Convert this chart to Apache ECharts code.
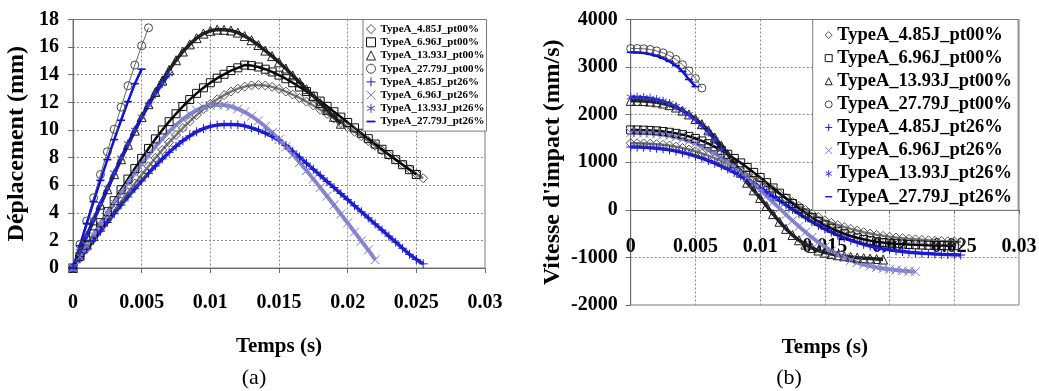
<!DOCTYPE html>
<html>
<head>
<meta charset="utf-8">
<script src="https://cdn.jsdelivr.net/npm/echarts@6/dist/echarts.min.js"></script>
<style>html,body{margin:0;padding:0;background:#fff;}#c{width:1039px;height:391px;}</style>
</head>
<body>
<div id="c"></div>
<script>
// ---- DATA ----
const seriesNames = ["TypeA_4.85J_pt00%","TypeA_6.96J_pt00%","TypeA_13.93J_pt00%","TypeA_27.79J_pt00%",
                     "TypeA_4.85J_pt26%","TypeA_6.96J_pt26%","TypeA_13.93J_pt26%","TypeA_27.79J_pt26%"];
const time = [0,0.0005,0.001,0.0015,0.002,0.0025,0.003,0.0035,0.004,0.0045,0.005,0.0055,0.006,0.0065,0.007,0.0075,
  0.008,0.0085,0.009,0.0095,0.010,0.0105,0.011,0.0115,0.012,0.0125,0.013,0.0135,0.014,0.0145,0.015,0.0155,
  0.016,0.0165,0.017,0.0175,0.018,0.0185,0.019,0.0195,0.020,0.0205,0.021,0.0215,0.022,0.0225,0.023,0.0235,
  0.024,0.0245,0.025,0.0255];
const timeTicks = [0,0.005,0.01,0.015,0.02,0.025,0.03];
const depTicks = [0,2,4,6,8,10,12,14,16,18];
const vitTicks = [-2000,-1000,0,1000,2000,3000,4000];

// (a) Déplacement (mm)
const dep_4_85_pt00 = [0,0.7,1.4,2.1,2.8,3.48,4.15,4.82,5.48,6.12,6.75,7.37,7.97,8.55,9.1,9.63,10.14,10.62,11.07,11.5,11.88,
  12.22,12.52,12.78,12.99,13.14,13.23,13.26,13.22,13.12,12.97,12.78,12.56,12.32,12.05,11.77,11.47,11.16,10.84,10.52,10.2,
  9.87,9.54,9.2,8.86,8.52,8.18,7.84,7.5,7.16,6.82,6.5];
const dep_6_96_pt00 = [0,0.83,1.65,2.47,3.28,4.08,4.88,5.67,6.44,7.2,7.94,8.66,9.35,10.0,10.6,11.17,11.7,12.2,12.65,13.05,13.42,
  13.75,14.03,14.3,14.5,14.7,14.66,14.56,14.4,14.2,13.97,13.71,13.42,13.11,12.78,12.44,12.09,11.71,11.32,10.93,10.54,
  10.15,9.76,9.37,8.98,8.6,8.22,7.85,7.48,7.12,6.77];
const dep_13_93_pt00 = [0,1.15,2.3,3.45,4.58,5.7,6.8,7.88,8.93,9.95,10.93,11.87,12.75,13.58,14.35,15.05,15.68,16.2,16.65,16.98,17.18,
  17.27,17.25,17.2,17.05,16.8,16.5,16.15,15.75,15.35,14.9,14.45,13.95,13.45,12.95,12.45,11.95,11.45,10.95,10.45];
const dep_27_79_pt00 = [0,1.7,3.4,5.09,6.77,8.42,10.05,11.65,13.2,14.7,16.1,17.4];
const dep_4_85_pt26 = [0,0.67,1.34,2.0,2.66,3.3,3.93,4.55,5.15,5.74,6.31,6.86,7.39,7.9,8.38,8.82,9.22,9.57,9.87,10.1,10.26,
  10.35,10.39,10.4,10.37,10.3,10.15,9.98,9.77,9.53,9.27,8.88,8.46,8.03,7.59,7.15,6.71,6.27,5.83,5.39,4.95,
  4.51,4.07,3.63,3.19,2.75,2.31,1.87,1.43,0.99,0.62,0.3];
const dep_6_96_pt26 = [0,0.8,1.6,2.39,3.17,3.94,4.7,5.44,6.16,6.86,7.53,8.17,8.78,9.35,9.88,10.36,10.78,11.14,11.43,11.64,11.77,
  11.82,11.8,11.7,11.53,11.3,11.0,10.65,10.25,9.8,9.3,8.77,8.22,7.65,7.06,6.45,5.83,5.2,4.56,3.91,3.26,
  2.61,1.96,1.31,0.6];
const dep_13_93_pt26 = [0,1.17,2.34,3.5,4.65,5.78,6.88,7.97,9.0,9.98,10.92,11.8,12.6,13.35,14.05];
const dep_27_79_pt26 = [0,1.62,3.22,4.8,6.35,7.85,9.3,10.7,12.05,13.35,14.4];

// (b) Vitesse d'impact (mm/s)
const vit_4_85_pt00 = [1400,1399,1395,1389,1380,1367,1350,1327,1300,1267,1230,1187,1140,1087,1030,967,900,827,750,671,590,
  506,420,335,250,165,80,0,-80,-152,-220,-272,-320,-362,-400,-436,-470,-499,-525,-546,-565,
  -581,-595,-608,-620,-631,-640,-648,-655,-661,-665,-670];
const vit_6_96_pt00 = [1680,1679,1675,1669,1660,1647,1630,1607,1580,1543,1500,1448,1390,1324,1250,1168,1080,987,890,787,680,
  571,460,350,240,134,30,-67,-160,-243,-320,-388,-450,-503,-550,-588,-620,-647,-670,-687,-700,
  -711,-720,-728,-735,-740,-745,-748,-750,-753,-755];
const vit_13_93_pt00 = [2290,2290,2285,2275,2260,2235,2200,2150,2085,2005,1910,1800,1670,1520,1350,1170,980,780,570,410,250,
  80,-90,-250,-400,-530,-640,-730,-800,-855,-900,-930,-955,-975,-990,-1005,-1015,-1025,-1035,-1045];
const vit_27_79_pt00 = [3390,3390,3385,3370,3340,3300,3240,3160,3050,2920,2760,2560];
const vit_4_85_pt26 = [1320,1319,1315,1307,1295,1280,1260,1235,1205,1170,1130,1085,1035,980,920,855,785,710,630,547,460,
  371,280,190,100,10,-80,-166,-250,-327,-400,-467,-530,-587,-640,-685,-725,-760,-790,-817,-840,
  -859,-875,-889,-900,-911,-920,-928,-935,-941,-945,-950];
const vit_6_96_pt26 = [1620,1619,1615,1607,1595,1577,1555,1525,1490,1446,1395,1334,1265,1186,1100,1004,900,788,670,547,420,
  291,160,30,-100,-227,-350,-468,-580,-684,-780,-864,-940,-1004,-1060,-1108,-1150,-1183,-1210,-1232,-1250,
  -1266,-1280,-1291,-1300];
const vit_13_93_pt26 = [2370,2368,2360,2345,2320,2285,2235,2170,2090,2000,1890,1770,1630,1470,1260];
const vit_27_79_pt26 = [3310,3305,3295,3270,3235,3185,3120,3030,2910,2740,2590];

// ---- STYLES ----
const FONT = "'Liberation Serif', 'Times New Roman', serif";
const P_PLUS = 'path://M5,0L5,10M0,5L10,5';
const P_CROSS = 'path://M0,0L10,10M0,10L10,0';
const P_STAR = 'path://M5,0L5,10M0.7,2.5L9.3,7.5M0.7,7.5L9.3,2.5';
const P_DASH = 'path://M0,0L10,0L10,2L0,2Z';
const styles = [
  {symbol:'diamond', stroke:'#555555', line:'#777777', lw:2.5, size:9},
  {symbol:'rect',    stroke:'#111111', line:'#000000', lw:2.5, size:8},
  {symbol:'triangle',stroke:'#1e1e1e', line:'#222222', lw:3.5, size:9},
  {symbol:'circle',  stroke:'#4a4a4a', line:'#666666', lw:1, size:8},
  {symbol:P_PLUS,    stroke:'#1a1ad0', line:'#2020d0', lw:3.5, size:9},
  {symbol:P_CROSS,   stroke:'#7a7ac8', line:'#8c8cd0', lw:4, size:9},
  {symbol:P_STAR,    stroke:'#3a3ad0', line:'#1a1ad0', lw:3, size:9},
  {symbol:P_DASH,    fill:'#1010d8',   line:'#1010d8', lw:2.5, size:8}
];

const depData = [dep_4_85_pt00, dep_6_96_pt00, dep_13_93_pt00, dep_27_79_pt00,
                 dep_4_85_pt26, dep_6_96_pt26, dep_13_93_pt26, dep_27_79_pt26];
const vitData = [vit_4_85_pt00, vit_6_96_pt00, vit_13_93_pt00, vit_27_79_pt00,
                 vit_4_85_pt26, vit_6_96_pt26, vit_13_93_pt26, vit_27_79_pt26];

function pairs(vals){ return vals.map((v,i)=>[time[i], v]); }
function itemStyleOf(s){
  return s.fill ? {color:s.fill, borderWidth:0}
                : {color:'rgba(0,0,0,0)', borderColor:s.stroke, borderWidth:1};
}
function makeSeries(datasets, gi){
  const out = [];
  datasets.forEach((vals, k) => {
    const s = styles[k];
    out.push({
      type:'line', name: seriesNames[k], xAxisIndex: gi, yAxisIndex: gi,
      data: pairs(vals), symbol: s.symbol, symbolSize: s.size, symbolKeepAspect: true,
      showAllSymbol: true, smooth: false, animation: false,
      lineStyle: {color: s.line, width: s.lw}, itemStyle: itemStyleOf(s),
      emphasis: {disabled: true}
    });
  });
  return out;
}
function legendData(){
  return seriesNames.map((n,k) => ({name:n, icon: styles[k].symbol, itemStyle: itemStyleOf(styles[k])}));
}
const fmtT = v => String(parseFloat(Number(v).toFixed(4)));
const fmtN = v => String(Math.round(v));
const axisText = (size) => ({color:'#000', fontFamily:FONT, fontWeight:'bold', fontSize:size});
const dotted = {show:true, showMinLine:false, showMaxLine:false, lineStyle:{color:'#8a8a8a', type:[2,2], width:1}};

// grid (b) geometry; its time axis sits on the zero of the velocity axis
const gridB = {left:630.7, top:19.5, width:388.3, height:285.5};
const zeroOffsetB = -gridB.height * (0 - vitTicks[0]) / (vitTicks[vitTicks.length-1] - vitTicks[0]);

const chart = echarts.init(document.getElementById('c'), null, {renderer:'canvas'});
chart.setOption({
  animation: false,
  backgroundColor: '#fff',
  grid: [
    {left:73, top:19.5, width:412, height:248.5, show:true, borderColor:'#7a7a7a', borderWidth:1, outerBoundsMode:'none'},
    {...gridB, show:true, borderColor:'#7a7a7a', borderWidth:1, outerBoundsMode:'none'}
  ],
  xAxis: [
    {gridIndex:0, type:'value', min:timeTicks[0], max:timeTicks[timeTicks.length-1], interval:0.005,
     name:'Temps (s)', nameLocation:'middle', nameGap:68, nameTextStyle:axisText(21),
     axisLine:{show:true, lineStyle:{color:'#6a6a6a'}}, axisTick:{show:true, length:5, lineStyle:{color:'#6a6a6a'}},
     axisLabel:{margin:25, formatter:fmtT, ...axisText(20)}, splitLine:dotted},
    {gridIndex:1, type:'value', position:'bottom', offset:zeroOffsetB,
     min:timeTicks[0], max:timeTicks[timeTicks.length-1], interval:0.005,
     name:'Temps (s)', nameLocation:'middle', nameGap:127, nameTextStyle:axisText(21),
     axisLine:{show:true, onZero:false, lineStyle:{color:'#5a5a5a'}}, axisTick:{show:true, length:4, lineStyle:{color:'#6a6a6a'}},
     axisLabel:{margin:27, formatter:fmtT, ...axisText(20)}, splitLine:dotted}
  ],
  yAxis: [
    {gridIndex:0, type:'value', min:depTicks[0], max:depTicks[depTicks.length-1], interval:2,
     name:'Déplacement (mm)', nameLocation:'middle', nameGap:44, nameTextStyle:axisText(24),
     axisLine:{show:true, lineStyle:{color:'#6a6a6a'}}, axisTick:{show:true, length:5, lineStyle:{color:'#6a6a6a'}},
     axisLabel:{margin:14, formatter:fmtN, ...axisText(20)}, splitLine:dotted},
    {gridIndex:1, type:'value', min:vitTicks[0], max:vitTicks[vitTicks.length-1], interval:1000,
     name:"Vitesse d'impact (mm/s)", nameLocation:'middle', nameGap:66, nameTextStyle:axisText(24),
     axisLine:{show:true, lineStyle:{color:'#6a6a6a'}}, axisTick:{show:true, length:5, lineStyle:{color:'#6a6a6a'}},
     axisLabel:{margin:13, formatter:fmtN, ...axisText(20)}, splitLine:dotted}
  ],
  legend: [
    {left:363, top:19.5, orient:'vertical', itemGap:0, itemWidth:9, itemHeight:9, padding:[3,2,3,3],
     backgroundColor:'#fff', borderColor:'#7a7a7a', borderWidth:1, selectedMode:false,
     textStyle:{color:'#000', fontFamily:FONT, fontWeight:'bold', fontSize:11, lineHeight:13.2},
     data: legendData()},
    {left:812.7, top:19.5, orient:'vertical', itemGap:0, itemWidth:7, itemHeight:7, padding:[4,6,2,12],
     backgroundColor:'#fff', borderColor:'#7a7a7a', borderWidth:1, selectedMode:false,
     textStyle:{color:'#000', fontFamily:FONT, fontWeight:'bold', fontSize:18.5, lineHeight:23.1},
     data: legendData()}
  ],
  graphic: [
    {type:'text', x:254, y:378, style:{text:'(a)', font:"22px 'Liberation Serif'", fill:'#000', align:'center', verticalAlign:'middle'}},
    {type:'text', x:789, y:378, style:{text:'(b)', font:"22px 'Liberation Serif'", fill:'#000', align:'center', verticalAlign:'middle'}}
  ],
  series: [...makeSeries(depData, 0), ...makeSeries(vitData, 1)]
});
</script>
</body>
</html>
